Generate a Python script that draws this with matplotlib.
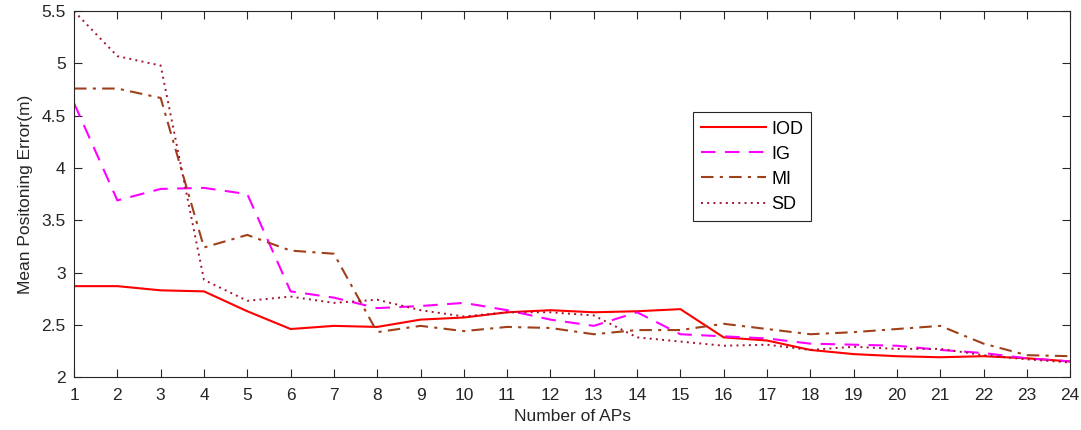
import numpy as np
import matplotlib.pyplot as plt

plt.rcParams['font.family'] = ['Liberation Sans', 'DejaVu Sans']

# data
aps = list(range(1, 25))
iod = [2.87, 2.87, 2.83, 2.82, 2.63, 2.46, 2.49, 2.48, 2.55, 2.57, 2.62, 2.64,
       2.62, 2.63, 2.65, 2.38, 2.35, 2.26, 2.22, 2.20, 2.19, 2.20, 2.18, 2.15]
ig = [4.62, 3.69, 3.80, 3.81, 3.75, 2.82, 2.76, 2.66, 2.68, 2.71, 2.64, 2.55,
      2.49, 2.62, 2.41, 2.39, 2.37, 2.32, 2.31, 2.30, 2.26, 2.23, 2.18, 2.15]
mi = [4.76, 4.76, 4.67, 3.24, 3.36, 3.21, 3.18, 2.43, 2.49, 2.44, 2.48, 2.47,
      2.41, 2.45, 2.45, 2.51, 2.46, 2.41, 2.43, 2.46, 2.49, 2.32, 2.21, 2.20]
sd = [5.50, 5.07, 4.98, 2.93, 2.73, 2.77, 2.71, 2.74, 2.64, 2.58, 2.62, 2.62,
      2.59, 2.38, 2.34, 2.30, 2.31, 2.26, 2.29, 2.27, 2.27, 2.21, 2.17, 2.14]

fig = plt.figure(figsize=(10.81, 4.30), dpi=100)
ax = fig.add_axes([0.0685, 0.123, 0.9215, 0.851])

ax.plot(aps, iod, color='#ff0000', lw=1.5, label='IOD')
ax.plot(aps, ig, color='#ff00ff', lw=1.5, ls=(0, (7, 4.5)), label='IG')
ax.plot(aps, mi, color='#a0401a', lw=1.5, ls=(0, (6, 3, 1.5, 3)), label='MI')
ax.plot(aps, sd, color='#a2142f', lw=1.4, ls=(0, (1, 2.2)), label='SD')

ax.set_xlim(1, 24)
ax.set_ylim(2, 5.5)
ax.set_xticks(aps)
ax.set_yticks(np.arange(2, 5.51, 0.5))
ax.set_yticklabels(['2', '2.5', '3', '3.5', '4', '4.5', '5', '5.5'])
ax.tick_params(direction='in', top=True, right=True, length=6, labelsize=12.5,
               colors='#262626')
ax.tick_params(axis='x', pad=8)
ax.tick_params(axis='y', pad=6)
for s in ax.spines.values():
    s.set_color('#262626')
    s.set_linewidth(0.8)

ax.set_xlabel('Number of APs', fontsize=12.5, color='#262626', labelpad=4)
ax.set_ylabel('Mean Positoning Error(m)', fontsize=12.5, color='#262626', labelpad=6)

leg = ax.legend(loc='upper left', bbox_to_anchor=(0.612, 0.748), fontsize=13,
                fancybox=False, edgecolor='#262626', framealpha=1,
                handlelength=3.6, borderpad=0.45, labelspacing=0.45,
                handletextpad=0.3)
leg.get_frame().set_linewidth(0.8)

plt.savefig('out.png', dpi=100)
